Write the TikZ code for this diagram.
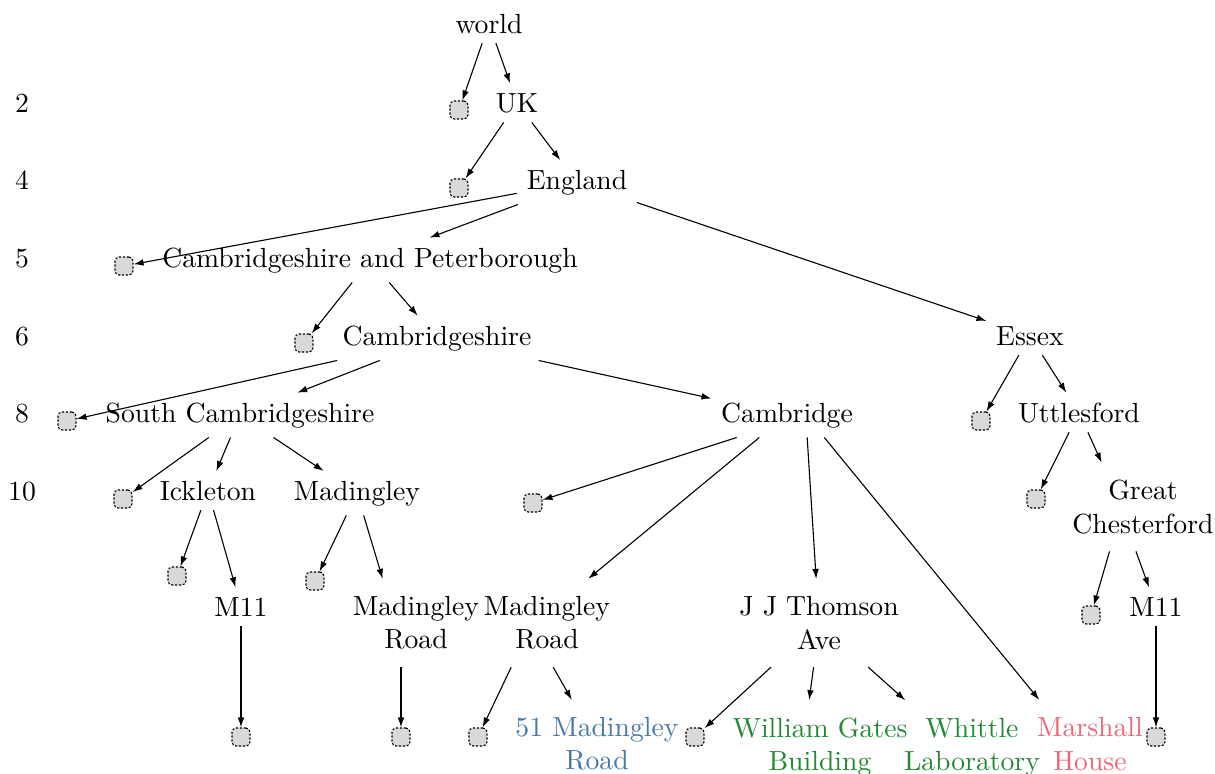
\documentclass[tikz,border=0pt]{standalone}
\usetikzlibrary{arrows.meta}
\definecolor{tolblue}{HTML}{4477AA}
\definecolor{tolgreen}{HTML}{228833}
\definecolor{tolred}{HTML}{EE6677}
\begin{document}
\begin{tikzpicture}[x=0.3612pt,y=-0.3612pt,
  txt/.style={anchor=base},
  ml/.style={align=center, inner ysep=6.2pt},
  leaf/.style={draw, minimum size=6.5pt, inner sep=0pt, rounded corners=1.5pt, fill=gray!30, dash pattern=on 0.8pt off 0.6pt},
  edge/.style={-{Latex[length=3.6pt,width=2.4pt]}}
]
\useasboundingbox (0,0) rectangle (1215,774);
% level labels
\node[txt] (l2) at (22,112) {2};
\node[txt] (l4) at (22,189) {4};
\node[txt] (l5) at (22,267) {5};
\node[txt] (l6) at (22,345) {6};
\node[txt] (l8) at (22,422) {8};
\node[txt] (l10) at (22,500) {10};
% tree nodes
\node[txt] (world) at (489,33) {world};
\node[txt] (uk) at (517,112) {UK};
\node[txt] (eng) at (577,189) {England};
\node[txt] (cp) at (370,267) {Cambridgeshire and Peterborough};
\node[txt] (cs) at (437,345) {Cambridgeshire};
\node[txt] (essex) at (1030,345) {Essex};
\node[txt] (sc) at (240,422) {South Cambridgeshire};
\node[txt] (cam) at (787,422) {Cambridge};
\node[txt] (utt) at (1079,422) {Uttlesford};
\node[txt] (ick) at (208,500) {Ickleton};
\node[txt] (mad) at (357,500) {Madingley};
\node[ml] (gc) at (1143,507) {Great\\Chesterford};
\node[txt] (m11a) at (241,616) {M11};
\node[ml] (mra) at (416,623) {Madingley\\Road};
\node[ml] (mrb) at (547,623) {Madingley\\Road};
\node[ml] (jj) at (819,623) {J J Thomson\\Ave};
\node[txt] (m11b) at (1156,616) {M11};
\node[ml, text=tolblue] (mr51) at (597,744) {51 Madingley\\Road};
\node[ml, text=tolgreen] (wgb) at (820,747) {William Gates\\Building};
\node[ml, text=tolgreen] (wl) at (972,747) {Whittle\\Laboratory};
\node[ml, text=tolred] (mh) at (1090,744) {Marshall\\House};
% leaves
\node[leaf] (b1) at (459,110) {};
\node[leaf] (b2) at (459,188) {};
\node[leaf] (b3) at (124,266) {};
\node[leaf] (b4) at (304,343) {};
\node[leaf] (b5) at (67,421) {};
\node[leaf] (b6) at (981,421) {};
\node[leaf] (b7) at (123,499) {};
\node[leaf] (b8) at (533,503) {};
\node[leaf] (b9) at (1036,499) {};
\node[leaf] (b10) at (177,576) {};
\node[leaf] (b11) at (315,581) {};
\node[leaf] (b12) at (1091,615) {};
\node[leaf] (b13) at (241,737) {};
\node[leaf] (b14) at (401,737) {};
\node[leaf] (b15) at (478,737) {};
\node[leaf] (b16) at (695,737) {};
\node[leaf] (b17) at (1156,737) {};
% edges
\draw[edge] (world) -- (b1);
\draw[edge] (world) -- (uk);
\draw[edge] (uk) -- (b2);
\draw[edge] (uk) -- (eng);
\draw[edge] (eng) -- (b3);
\draw[edge] (eng) -- (cp);
\draw[edge] (eng) -- (essex);
\draw[edge] (cp) -- (b4);
\draw[edge] (cp) -- (cs);
\draw[edge] (cs) -- (b5);
\draw[edge] (cs) -- (sc);
\draw[edge] (cs) -- (cam);
\draw[edge] (essex) -- (b6);
\draw[edge] (essex) -- (utt);
\draw[edge] (sc) -- (b7);
\draw[edge] (sc) -- (ick);
\draw[edge] (sc) -- (mad);
\draw[edge] (cam.-156.7) -- (b8);
\draw[edge] (cam.-141.5) -- (mrb.47);
\draw[edge] (cam.-48.5) -- (jj);
\draw[edge] (cam.-31.6) -- (mh.139);
\draw[edge] (utt) -- (b9);
\draw[edge] (utt) -- (gc.133);
\draw[edge] (ick) -- (b10);
\draw[edge] (ick) -- (m11a);
\draw[edge] (mad) -- (b11);
\draw[edge] (mad) -- (mra.127);
\draw[edge] (gc.-127.5) -- (b12);
\draw[edge] (gc.-99) -- (m11b);
\draw[edge] (m11a) -- (b13);
\draw[edge] (mra.south -| b14) -- (b14);
\draw[edge] (mrb.-129.4) -- (b15);
\draw[edge] (mrb.-82.4) -- (mr51);
\draw[edge] (jj) -- (b16);
\draw[edge] (jj.-97.6) -- (wgb.103);
\draw[edge] (jj) -- (wl.145.5);
\draw[edge] (m11b) -- (b17);
\end{tikzpicture}
\end{document}
